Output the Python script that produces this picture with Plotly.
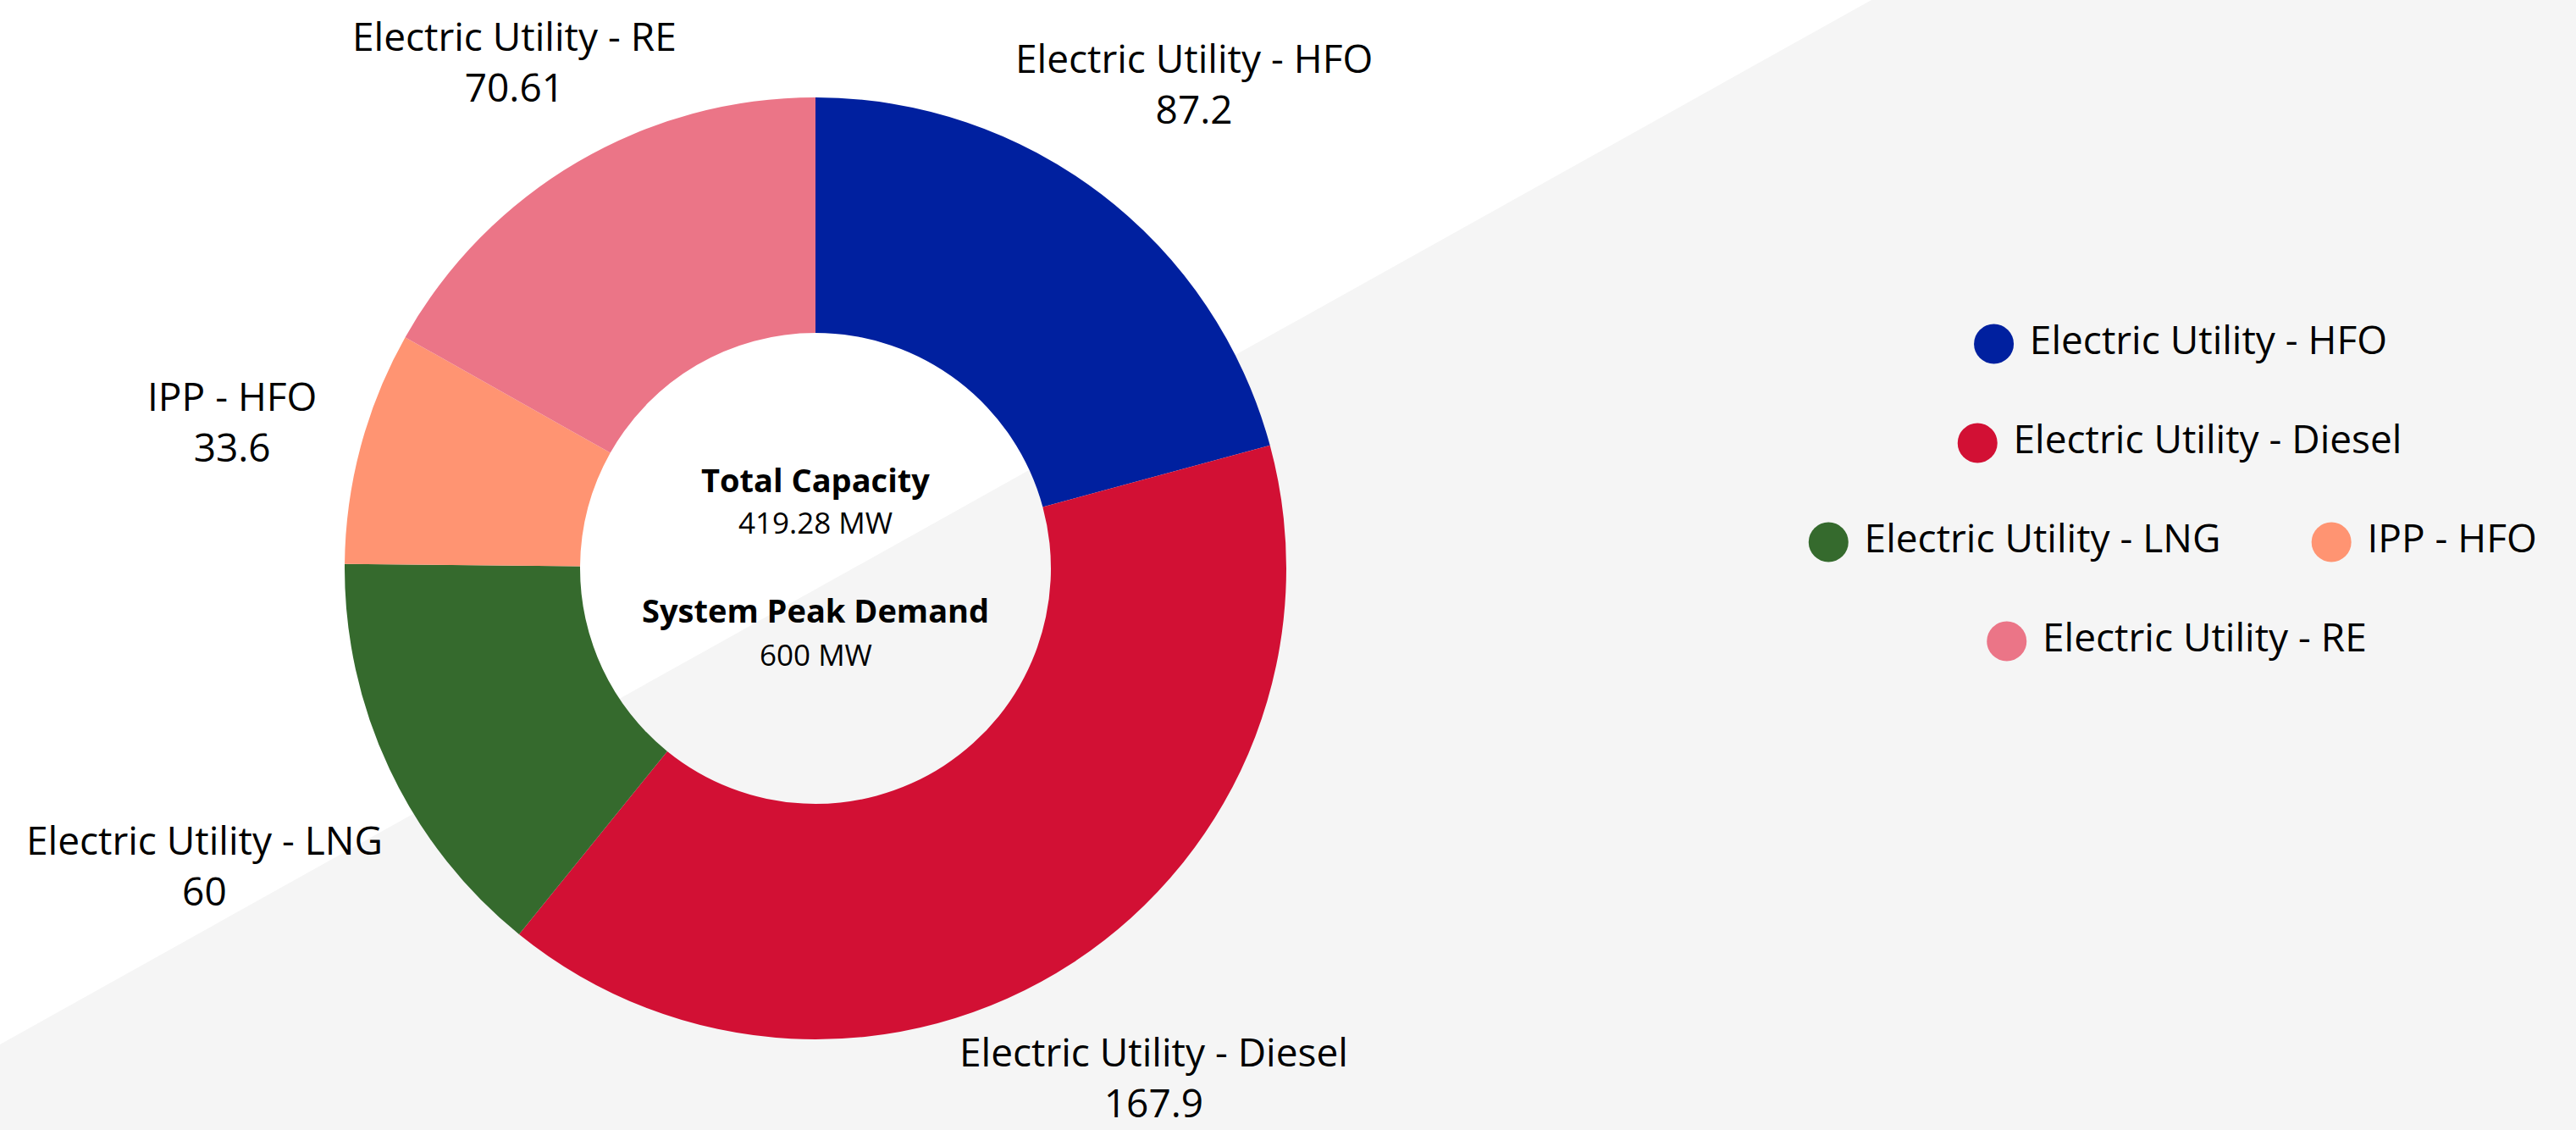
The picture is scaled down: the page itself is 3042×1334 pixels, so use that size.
import math
import plotly.graph_objects as go

# ---------------- data ----------------
categories = [
    "Electric Utility - HFO",
    "Electric Utility - Diesel",
    "Electric Utility - LNG",
    "IPP - HFO",
    "Electric Utility - RE",
]
capacity_mw = [87.2, 167.9, 60, 33.6, 70.61]
slice_colors = ["#00209F", "#D21034", "#356A2D", "#FF9472", "#EB7587"]
center_titles = ["Total Capacity", "System Peak Demand"]
center_values = ["419.28 MW", "600 MW"]
legend_rows = [[0], [1], [2, 3], [4]]

# ---------------- layout constants (pixels) ----------------
W, H = 3042, 1334
PIE_CX, PIE_CY, PIE_R = 963, 671, 556
HOLE = 0.5
LABEL_R0 = 605          # distance of label block centre, plus half its horizontal extent
LABEL_DY = 10
FONT = "Open Sans"
LABEL_SIZE = 46
CENTER_TITLE_SIZE = 38
CENTER_VALUE_SIZE = 35
CENTER_ROWS = [-105, -55, 49, 101]   # y offsets from pie centre for title/value rows
LEG_SIZE = 46
LEG_CX, LEG_Y0, LEG_DY = 2578, 406, 117
LEG_MARK = 47
LEG_ITEM_GAP = 100
DIAG_LEFT_Y, DIAG_TOP_X = 1233, 2210
BG_GRAY = "#F5F5F5"


def est_text_width(s, size):
    w = 0.0
    for ch in s:
        if ch.isupper():
            w += 0.66
        elif ch.isdigit():
            w += 0.57
        elif ch in "iltrfj -.":
            w += 0.30
        else:
            w += 0.52
    return w * size


fig = go.Figure()

# donut
fig.add_trace(go.Pie(
    labels=categories,
    values=capacity_mw,
    marker=dict(colors=slice_colors, line=dict(width=0)),
    hole=HOLE,
    sort=False,
    direction="clockwise",
    rotation=0,
    textinfo="none",
    textposition="none",
    showlegend=False,
    hoverinfo="label+value",
    domain=dict(
        x=[(PIE_CX - PIE_R) / W, (PIE_CX + PIE_R) / W],
        y=[1 - (PIE_CY + PIE_R) / H, 1 - (PIE_CY - PIE_R) / H],
    ),
))

# outside labels, positioned from the slice mid-angles
total = sum(capacity_mw)
cum = 0.0
annotations = []
for name, v in zip(categories, capacity_mw):
    mid = (cum + v / 2) / total * 2 * math.pi
    cum += v
    val_txt = f"{v:g}"
    w = max(est_text_width(name, LABEL_SIZE), est_text_width(val_txt, LABEL_SIZE))
    d = LABEL_R0 + abs(math.sin(mid)) * w / 2
    y = PIE_CY - d * math.cos(mid) + LABEL_DY
    y = min(y, H - 1.36 * LABEL_SIZE)   # keep the whole label box inside the figure
    annotations.append(dict(
        x=PIE_CX + d * math.sin(mid), y=y,
        xref="x", yref="y", showarrow=False, align="center",
        text=f"{name}<br>{val_txt}",
        font=dict(family=FONT, size=LABEL_SIZE, color="#000000"),
    ))

# centre text
for k, (title, val) in enumerate(zip(center_titles, center_values)):
    annotations.append(dict(
        x=PIE_CX, y=PIE_CY + CENTER_ROWS[2 * k], xref="x", yref="y",
        showarrow=False, text=f"<b>{title}</b>",
        font=dict(family=FONT, size=CENTER_TITLE_SIZE, color="#000000"),
    ))
    annotations.append(dict(
        x=PIE_CX, y=PIE_CY + CENTER_ROWS[2 * k + 1], xref="x", yref="y",
        showarrow=False, text=val,
        font=dict(family=FONT, size=CENTER_VALUE_SIZE, color="#000000"),
    ))

# custom legend (large circular markers, centred rows)
for r, row in enumerate(legend_rows):
    widths = [LEG_MARK + 20 + est_text_width(categories[i], LEG_SIZE) for i in row]
    row_w = sum(widths) + LEG_ITEM_GAP * (len(row) - 1)
    x = LEG_CX - row_w / 2
    y = LEG_Y0 + r * LEG_DY
    for i, wdt in zip(row, widths):
        fig.add_trace(go.Scatter(
            x=[x + LEG_MARK / 2], y=[y],
            mode="markers+text",
            marker=dict(size=LEG_MARK, color=slice_colors[i]),
            text=["\u00a0" + categories[i]],
            textposition="middle right",
            textfont=dict(family=FONT, size=LEG_SIZE, color="#000000"),
            showlegend=False, hoverinfo="skip", cliponaxis=False,
        ))
        x += wdt + LEG_ITEM_GAP

fig.update_layout(
    width=W, height=H, autosize=False,
    margin=dict(l=0, r=0, t=0, b=0, pad=0),
    paper_bgcolor="#FFFFFF", plot_bgcolor="rgba(0,0,0,0)",
    xaxis=dict(range=[0, W], visible=False, fixedrange=True, domain=[0, 1]),
    yaxis=dict(range=[H, 0], visible=False, fixedrange=True, domain=[0, 1]),
    shapes=[dict(
        type="path", xref="paper", yref="paper", layer="below",
        path=f"M0,{1 - DIAG_LEFT_Y / H} L{DIAG_TOP_X / W},1 L1,1 L1,0 L0,0 Z",
        fillcolor=BG_GRAY, line=dict(width=0),
    )],
    annotations=annotations,
    showlegend=False,
)

fig.write_html("out.html", config={"displayModeBar": False},
               post_script="document.body.style.margin='0';")
